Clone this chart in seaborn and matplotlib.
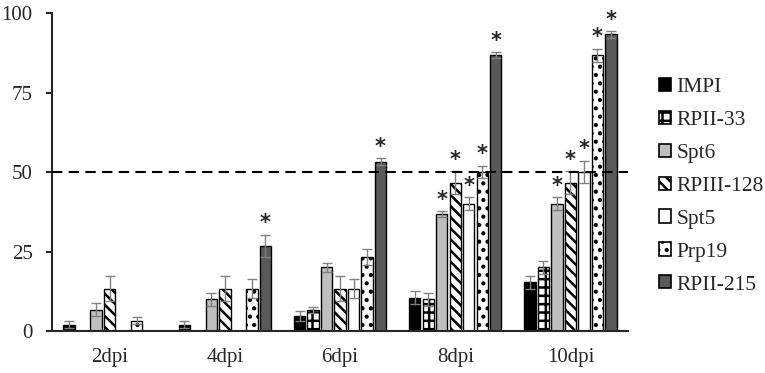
import seaborn as sns
import matplotlib.pyplot as plt
import pandas as pd
from matplotlib.patches import Patch

# dati
days = ["2dpi", "4dpi", "6dpi", "8dpi", "10dpi"]
genes = ["IMPI", "RPII-33", "Spt6", "RPIII-128", "Spt5", "Prp19", "RPII-215"]

impi = [2, 2, 4.7, 10.5, 15.3]
rpii33 = [0, 0, 6.7, 10, 20]
spt6 = [6.7, 10, 20, 36.7, 40]
rpiii128 = [13.3, 13.3, 13.3, 46.7, 46.7]
spt5 = [0, 0, 13.3, 40, 50]
prp19 = [3.3, 13.3, 23.3, 50, 86.7]
rpii215 = [0, 26.7, 53.3, 86.7, 93.3]

impi_err = [1, 1, 1.5, 2, 2]
rpii33_err = [0, 0, 1, 2, 2]
spt6_err = [2, 2, 1.5, 1, 2]
rpiii128_err = [4, 4, 4, 3.5, 3.5]
spt5_err = [0, 0, 3, 2, 3.5]
prp19_err = [1, 3, 2.5, 2, 2]
rpii215_err = [0, 3.5, 1, 1, 1]

# asterischi (significativi)
impi_sig = [0, 0, 0, 0, 0]
rpii33_sig = [0, 0, 0, 0, 0]
spt6_sig = [0, 0, 0, 1, 1]
rpiii128_sig = [0, 0, 0, 1, 1]
spt5_sig = [0, 0, 0, 1, 1]
prp19_sig = [0, 0, 0, 1, 1]
rpii215_sig = [0, 1, 1, 1, 1]

values = [impi, rpii33, spt6, rpiii128, spt5, prp19, rpii215]
errors = [impi_err, rpii33_err, spt6_err, rpiii128_err, spt5_err, prp19_err, rpii215_err]
sigs = [impi_sig, rpii33_sig, spt6_sig, rpiii128_sig, spt5_sig, prp19_sig, rpii215_sig]

colors = ["#000000", "#ffffff", "#bfbfbf", "#ffffff", "#ffffff", "#ffffff", "#595959"]
hatches = ["", "++", "", "\\\\\\", "", "..", ""]

rows = []
for g, vals in zip(genes, values):
    for d, v in zip(days, vals):
        rows.append({"day": d, "gene": g, "value": v})
df = pd.DataFrame(rows)

sns.set_style("ticks")
plt.rcParams["font.family"] = ["Liberation Serif", "DejaVu Serif"]
plt.rcParams["hatch.linewidth"] = 1.8

fig = plt.figure(figsize=(7.65, 3.73), dpi=100)
ax = fig.add_axes([0.068, 0.1126, 0.753, 0.8525])

sns.barplot(data=df, x="day", y="value", hue="gene", hue_order=genes,
            order=days, palette=colors, errorbar=None, width=0.82, gap=0.15,
            edgecolor="black", linewidth=1, legend=False, ax=ax)

for cont, h, errs, sig in zip(ax.containers, hatches, errors, sigs):
    for bar, e, s in zip(cont, errs, sig):
        bar.set_hatch(h)
        x = bar.get_x() + bar.get_width() / 2
        top = bar.get_height()
        if e > 0:
            ax.errorbar(x, top, yerr=e, color="#808080", capsize=3.5,
                        elinewidth=1, capthick=1, zorder=3)
        if s:
            ax.text(x, top + e + 0.5, "*", ha="center", va="bottom",
                    fontsize=15, fontweight="bold", fontfamily="DejaVu Sans")

ax.axhline(50, color="black", linestyle=(0, (5, 3)), linewidth=1.5, zorder=4)

ax.set_xlim(-0.5, 4.5)
ax.set_ylim(0, 100)
ax.set_yticks([0, 25, 50, 75, 100])
ax.set_xlabel("")
ax.set_ylabel("")
ax.tick_params(axis="x", length=0, labelsize=15, pad=12)
ax.tick_params(axis="y", length=4, width=1.5, labelsize=15, pad=10)
sns.despine(ax=ax)
ax.spines["left"].set_linewidth(1.5)
ax.spines["bottom"].set_linewidth(1.5)

handles = [Patch(facecolor=c, edgecolor="black", hatch=h, linewidth=1.2)
           for c, h in zip(colors, hatches)]
fig.legend(handles, genes, loc="center left", bbox_to_anchor=(0.836, 0.501),
           frameon=False, fontsize=15.5, handlelength=0.56, handleheight=0.56,
           handletextpad=0.25, labelspacing=0.64)

plt.savefig("out.png", dpi=100)
